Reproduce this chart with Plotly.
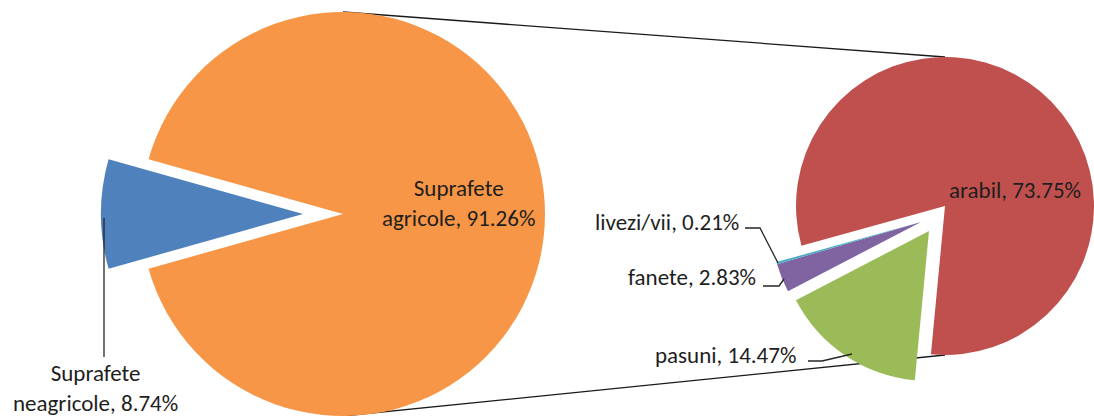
import plotly.graph_objects as go

W, H = 1094, 416

# ---- data ----
main_labels = ["Suprafete agricole", "Suprafete neagricole"]
main_values = [91.26, 8.74]
main_colors = ["#F79646", "#4F81BD"]

sub_labels = ["arabil", "pasuni", "fanete", "livezi/vii"]
sub_values = [73.75, 14.47, 2.83, 0.21]
sub_colors = ["#C0504D", "#9BBB59", "#8064A2", "#4BACC6"]

T = "rgba(0,0,0,0)"
FONT = "Calibri, Carlito, Lato, sans-serif"
FSIZE = 23
TXT = "#1e1e1e"


def dom(cx, cy, r):
    return dict(x=[max(0, (cx - r) / W), min(1, (cx + r) / W)],
                y=[max(0, (H - cy - r) / H), min(1, (H - cy + r) / H)])


def px(x, y):
    return x / W, 1 - y / H


fig = go.Figure()

# primary pie geometry (pixels)
mcx, mcy, mr = 343, 214, 202
blue_shift = 40
frac_neag = main_values[1] / sum(main_values)
main_rot = 90 - (180 - frac_neag * 180)

# primary pie: orange part
fig.add_trace(go.Pie(
    labels=main_labels, values=main_values, sort=False, direction="clockwise",
    rotation=main_rot, textinfo="none", hoverinfo="label+percent",
    marker=dict(colors=[main_colors[0], T], line=dict(width=0)),
    domain=dom(mcx, mcy, mr), showlegend=False))
# exploded blue part
fig.add_trace(go.Pie(
    labels=main_labels, values=main_values, sort=False, direction="clockwise",
    rotation=main_rot, textinfo="none", hoverinfo="label+percent",
    marker=dict(colors=[T, main_colors[1]], line=dict(width=0)),
    domain=dom(mcx - blue_shift, mcy, mr), showlegend=False))

# secondary pie geometry
scx, scy, sr = 945, 205, 150
sub_rot = 90 - 195.5

fig.add_trace(go.Pie(
    labels=sub_labels, values=sub_values, sort=False, direction="clockwise",
    rotation=sub_rot, textinfo="none", hoverinfo="label+value",
    marker=dict(colors=[sub_colors[0], T, T, T], line=dict(width=0)),
    domain=dom(scx, scy + 1, sr - 1), showlegend=False))
fig.add_trace(go.Pie(
    labels=sub_labels, values=sub_values, sort=False, direction="clockwise",
    rotation=sub_rot, textinfo="none", hoverinfo="label+value",
    marker=dict(colors=[T, sub_colors[1], T, T], line=dict(width=0)),
    domain=dom(scx - 16, scy + 26, sr), showlegend=False))
fig.add_trace(go.Pie(
    labels=sub_labels, values=sub_values, sort=False, direction="clockwise",
    rotation=sub_rot, textinfo="none", hoverinfo="label+value",
    marker=dict(colors=[T, T, sub_colors[2], sub_colors[3]], line=dict(width=0)),
    domain=dom(scx - 24, scy + 17, sr), showlegend=False))

shapes = []
# connector lines between the pies (top-top, bottom-bottom)
for (x0, y0, x1, y1) in [(mcx, mcy - mr, scx, scy - sr + 2), (mcx, mcy + mr, scx, scy + sr)]:
    a, b = px(x0, y0)
    c, d = px(x1, y1)
    shapes.append(dict(type="line", xref="paper", yref="paper", x0=a, y0=b, x1=c, y1=d,
                       line=dict(color="#1a1a1a", width=1.3), layer="below"))


def leader(points):
    p = [px(x, y) for x, y in points]
    path = "M " + " L ".join(f"{a},{b}" for a, b in p)
    return dict(type="path", xref="paper", yref="paper", path=path,
                line=dict(color="#262626", width=1.3), layer="above")


shapes.append(leader([(104, 218), (104, 357)]))
shapes.append(leader([(745, 228), (760, 228), (778, 263)]))
shapes.append(leader([(763, 286), (779, 286), (784, 279)]))
shapes.append(leader([(808, 361), (822, 361), (852, 354)]))

annotations = []


def ann(text, x, y, xanchor="center"):
    a, b = px(x, y)
    annotations.append(dict(text=text, x=a, y=b, xref="paper", yref="paper",
                            xanchor=xanchor, yanchor="middle", showarrow=False,
                            align="center", font=dict(family=FONT, size=FSIZE, color=TXT)))


ann(f"{main_labels[0].replace(' ', '<br>')}, {main_values[0]:.2f}%", 458, 203)
ann(f"{main_labels[1].replace(' ', '<br>')}, {main_values[1]:.2f}%", 95, 388)
ann(f"{sub_labels[0]}, {sub_values[0]:.2f}%", 947, 190, "left")
ann(f"{sub_labels[1]}, {sub_values[1]:.2f}%", 798, 355, "right")
ann(f"{sub_labels[2]}, {sub_values[2]:.2f}%", 758, 277, "right")
ann(f"{sub_labels[3]}, {sub_values[3]:.2f}%", 741, 222, "right")

fig.update_layout(width=W, height=H, margin=dict(l=0, r=0, t=0, b=0),
                  paper_bgcolor="white", plot_bgcolor="white",
                  shapes=shapes, annotations=annotations,
                  font=dict(family=FONT))

fig.write_html("out.html", config={"displayModeBar": False},
               post_script="document.body.style.margin='0px';")
